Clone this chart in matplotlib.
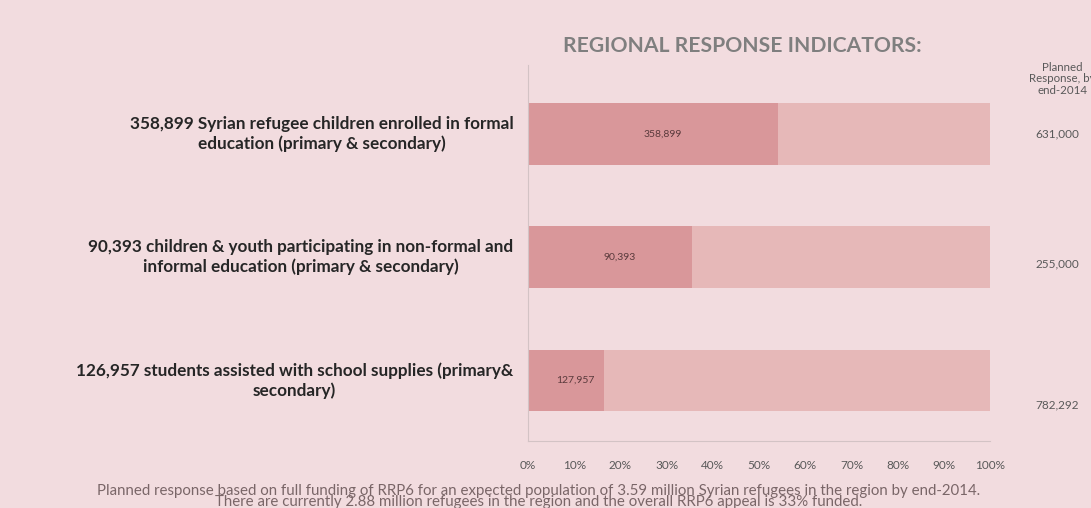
import numpy as np
import matplotlib.pyplot as plt

plt.rcParams['font.family'] = ['Lato', 'DejaVu Sans']

labels = [
    "358,899 Syrian refugee children enrolled in formal\neducation (primary & secondary)",
    "90,393 children & youth participating in non-formal and\ninformal education (primary & secondary)",
    "126,957 students assisted with school supplies (primary&\nsecondary)",
]
bar_text = ["358,899", "90,393", "127,957"]
achieved_pct = [54.2, 35.5, 16.4]
planned = ["631,000", "255,000", "782,292"]
ticks = [0, 10, 20, 30, 40, 50, 60, 70, 80, 90, 100]

bg = '#f2dcdf'
dark = '#d9979a'
light = '#e6b8b8'
grey = '#7f7f7f'

fig = plt.figure(figsize=(10.91, 5.08), dpi=100, facecolor=bg)
ax = fig.add_axes([0.484, 0.132, 0.4235, 0.740])
ax.set_facecolor(bg)

y = np.arange(len(labels))
ax.barh(y, [100] * len(y), height=0.5, color=light)
ax.barh(y, achieved_pct, height=0.5, color=dark)
planned_off = [0, 0.05, 0.2]
for i in y:
    ax.text(achieved_pct[i] / 2 + 2, i, bar_text[i], ha='center', va='center',
            fontsize=7.5, color='#5a3a3c')
    ax.text(-3.2, i, labels[i], ha='right', va='center', multialignment='center',
            fontsize=12.3, fontweight='bold', color='#262626', linespacing=1.25)
    ax.text(114.5, i + planned_off[i], planned[i], ha='center', va='center',
            fontsize=8.5, color='#595959')

ax.set_xlim(0, 100)
ax.set_ylim(2.49, -0.56)
ax.set_xticks(ticks)
ax.set_xticklabels([f"{t}%" for t in ticks], fontsize=8.5, color='#595959')
ax.set_yticks([])
ax.tick_params(axis='x', length=0, pad=14)
for s in ['top', 'right']:
    ax.spines[s].set_visible(False)
for s in ['left', 'bottom']:
    ax.spines[s].set_color('#d3c3c5')

fig.text(0.516, 0.91, "REGIONAL RESPONSE INDICATORS:", fontsize=15.2,
         fontweight='bold', color=grey, ha='left', va='center')
fig.text(0.974, 0.845, "Planned\nResponse, by\nend-2014", fontsize=8.3,
         color='#595959', ha='center', va='center', linespacing=1.05)
fig.text(0.494, 0.022, "Planned response based on full funding of RRP6 for an expected population of 3.59 million Syrian refugees in the region by end-2014.\n"
         "There are currently 2.88 million refugees in the region and the overall RRP6 appeal is 33% funded.",
         fontsize=10.8, color='#7a6668', ha='center', va='center', linespacing=0.75)

fig.savefig('out.png', dpi=100, facecolor=bg)
